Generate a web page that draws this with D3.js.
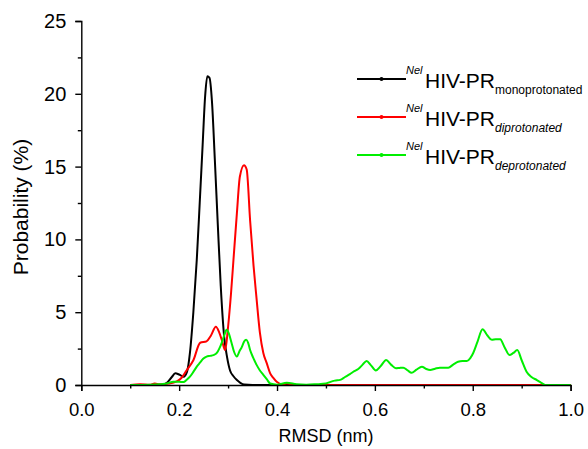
<!DOCTYPE html>
<html>
<head>
<meta charset="utf-8">
<script src="https://cdn.jsdelivr.net/npm/d3@7"></script>
<style>
  html, body { margin: 0; padding: 0; background: #fff; }
  svg { display: block; font-family: "Liberation Sans", Arial, sans-serif; }
</style>
</head>
<body>
<svg id="chart" width="588" height="449"></svg>
<script>
// RMSD distributions of the three protonation states
const monoX = [0.10,0.15,0.165,0.175,0.185,0.192,0.200,0.209,0.216,0.222,0.229,0.236,0.242,0.248,0.253,0.2576,0.262,0.267,0.273,0.279,0.285,0.292,0.298,0.304,0.311,0.318,0.325,0.333,0.35,0.45,1.0];
const monoY = [0,0,0.02,0.15,0.55,0.8,0.72,0.57,0.9,2.2,5.0,8.6,12.5,16.5,19.8,21.2,21.1,19.5,15.4,11.0,6.8,3.3,1.9,1.0,0.6,0.34,0.15,0.03,0,0,0];

const diX = [0.10,0.12,0.14,0.15,0.16,0.18,0.195,0.205,0.215,0.229,0.243,0.256,0.265,0.275,0.282,0.288,0.294,0.300,0.306,0.311,0.318,0.324,0.3325,0.338,0.345,0.352,0.358,0.365,0.372,0.379,0.386,0.392,0.400,0.410,0.42,0.43,0.44,0.46,0.5,1.0];
const diY = [0,0.05,0.02,0.1,0.05,0.1,0.25,0.5,1.0,1.7,2.9,3.0,3.4,4.0,3.6,3.0,2.4,4.0,6.3,8.6,11.8,14.3,15.1,14.8,11.3,8.2,6.0,3.6,2.2,1.5,0.8,0.5,0.2,0.05,0.1,0.05,0,0,0,0];

const deX = [0.10,0.14,0.16,0.175,0.188,0.200,0.209,0.215,0.222,0.229,0.236,0.243,0.249,0.256,0.263,0.270,0.277,0.282,0.287,0.292,0.297,0.302,0.307,0.312,0.318,0.323,0.328,0.333,0.337,0.341,0.345,0.351,0.358,0.365,0.372,0.379,0.386,0.40,0.42,0.44,0.46,0.48,0.50,0.508,0.518,0.529,0.539,0.549,0.558,0.566,0.575,0.583,0.592,0.602,0.612,0.623,0.633,0.643,0.650,0.658,0.667,0.675,0.685,0.696,0.705,0.713,0.723,0.733,0.742,0.750,0.760,0.770,0.779,0.788,0.795,0.801,0.810,0.820,0.830,0.839,0.847,0.856,0.865,0.875,0.883,0.891,0.900,0.910,0.920,0.931,0.940,0.948,0.96,1.0];
const deY = [0,0.02,0.05,0.1,0.23,0.22,0.2,0.35,0.57,0.9,1.26,1.55,1.8,1.95,2.0,2.05,2.2,2.5,2.9,3.4,3.8,3.5,2.9,2.3,1.95,2.3,2.6,3.0,3.1,2.9,2.4,1.9,1.4,1.0,0.7,0.4,0.1,0.02,0.15,0.05,0.02,0.05,0.1,0.2,0.3,0.35,0.55,0.75,0.95,1.1,1.4,1.65,1.35,1.0,1.3,1.72,1.4,1.15,1.17,1.19,1.0,0.84,1.05,1.26,1.1,1.03,1.12,1.19,1.19,1.19,1.4,1.6,1.65,1.65,1.85,2.2,3.0,3.83,3.4,3.1,3.15,3.14,2.6,2.06,2.2,2.4,1.7,0.91,0.55,0.34,0.15,0.0,0,0];

const xTicks = [0.0,0.2,0.4,0.6,0.8,1.0];
const xMinor = [0.1,0.3,0.5,0.7,0.9];
const yTicks = [0,5,10,15,20,25];
const yMinor = [2.5,7.5,12.5,17.5,22.5];

const seriesNames = ["monoprotonated","diprotonated","deprotonated"];
const seriesColors = ["#000000","#ff0000","#00ee00"];

const svg = d3.select("#chart");
const plotLeft = 81.3, plotRight = 570.6, plotTop = 21, plotBottom = 385;

const x = d3.scaleLinear().domain([0, 1]).range([plotLeft, plotRight]);
const y = d3.scaleLinear().domain([0, 25]).range([plotBottom, plotTop]);

const series = [
  {name: seriesNames[0], color: seriesColors[0], pts: d3.zip(monoX, monoY)},
  {name: seriesNames[1], color: seriesColors[1], pts: d3.zip(diX, diY)},
  {name: seriesNames[2], color: seriesColors[2], pts: d3.zip(deX, deY)}
];

const line = d3.line()
  .x(d => x(d[0]))
  .y(d => y(d[1]))
  .curve(d3.curveMonotoneX);

svg.append("g").selectAll("path")
  .data(series)
  .join("path")
  .attr("d", d => line(d.pts))
  .attr("fill", "none")
  .attr("stroke", d => d.color)
  .attr("stroke-width", 2)
  .attr("stroke-linejoin", "round");

// Axes: major ticks with labels, unlabelled minor ticks in between
svg.append("g").attr("transform", `translate(0,${plotBottom})`)
  .call(d3.axisBottom(x).tickValues(xTicks).tickFormat(d3.format(".1f")).tickSize(6).tickPadding(12))
  .call(g => g.select(".domain").attr("stroke-width", 1.4))
  .call(g => g.selectAll(".tick line").attr("stroke-width", 1.4))
  .call(g => g.selectAll("text").attr("font-size", 18.5).attr("fill", "#000")
     .attr("font-family", "Liberation Sans, Arial, sans-serif"));
svg.append("g").attr("transform", `translate(0,${plotBottom})`)
  .call(d3.axisBottom(x).tickValues(xMinor).tickFormat("").tickSize(3.5))
  .call(g => g.select(".domain").remove())
  .call(g => g.selectAll(".tick line").attr("stroke-width", 1.4));

svg.append("g").attr("transform", `translate(${plotLeft},0)`)
  .call(d3.axisLeft(y).tickValues(yTicks).tickFormat(d3.format("d")).tickSize(6).tickPadding(9))
  .call(g => g.select(".domain").attr("stroke-width", 1.4))
  .call(g => g.selectAll(".tick line").attr("stroke-width", 1.4))
  .call(g => g.selectAll("text").attr("font-size", 20).attr("fill", "#000")
     .attr("font-family", "Liberation Sans, Arial, sans-serif"));
svg.append("g").attr("transform", `translate(${plotLeft},0)`)
  .call(d3.axisLeft(y).tickValues(yMinor).tickFormat("").tickSize(3.5))
  .call(g => g.select(".domain").remove())
  .call(g => g.selectAll(".tick line").attr("stroke-width", 1.4));

// Axis titles
svg.append("text")
  .attr("x", (plotLeft + plotRight) / 2).attr("y", 442)
  .attr("text-anchor", "middle").attr("font-size", 18)
  .text("RMSD (nm)");
svg.append("text")
  .attr("transform", "translate(27.5,207) rotate(-90)")
  .attr("text-anchor", "middle").attr("font-size", 21)
  .text("Probability (%)");

// Legend
const legend = svg.append("g");
series.forEach((s, i) => {
  const ly = 79 + i * 38;
  const g = legend.append("g");
  g.append("line").attr("x1", 357).attr("x2", 406).attr("y1", ly).attr("y2", ly)
    .attr("stroke", s.color).attr("stroke-width", 2);
  g.append("circle").attr("cx", 381.5).attr("cy", ly).attr("r", 2).attr("fill", s.color);
  const t = g.append("text").attr("x", 406).attr("y", ly + 9).attr("font-size", 21);
  t.append("tspan").attr("font-size", 11).attr("font-style", "italic").attr("dy", -14).text("Nel");
  t.append("tspan").attr("x", 425).attr("dy", 14).text("HIV-PR");
  t.append("tspan").attr("font-size", 12).attr("dy", 6)
    .attr("font-style", i === 0 ? "normal" : "italic").text(s.name);
});
</script>
</body>
</html>
